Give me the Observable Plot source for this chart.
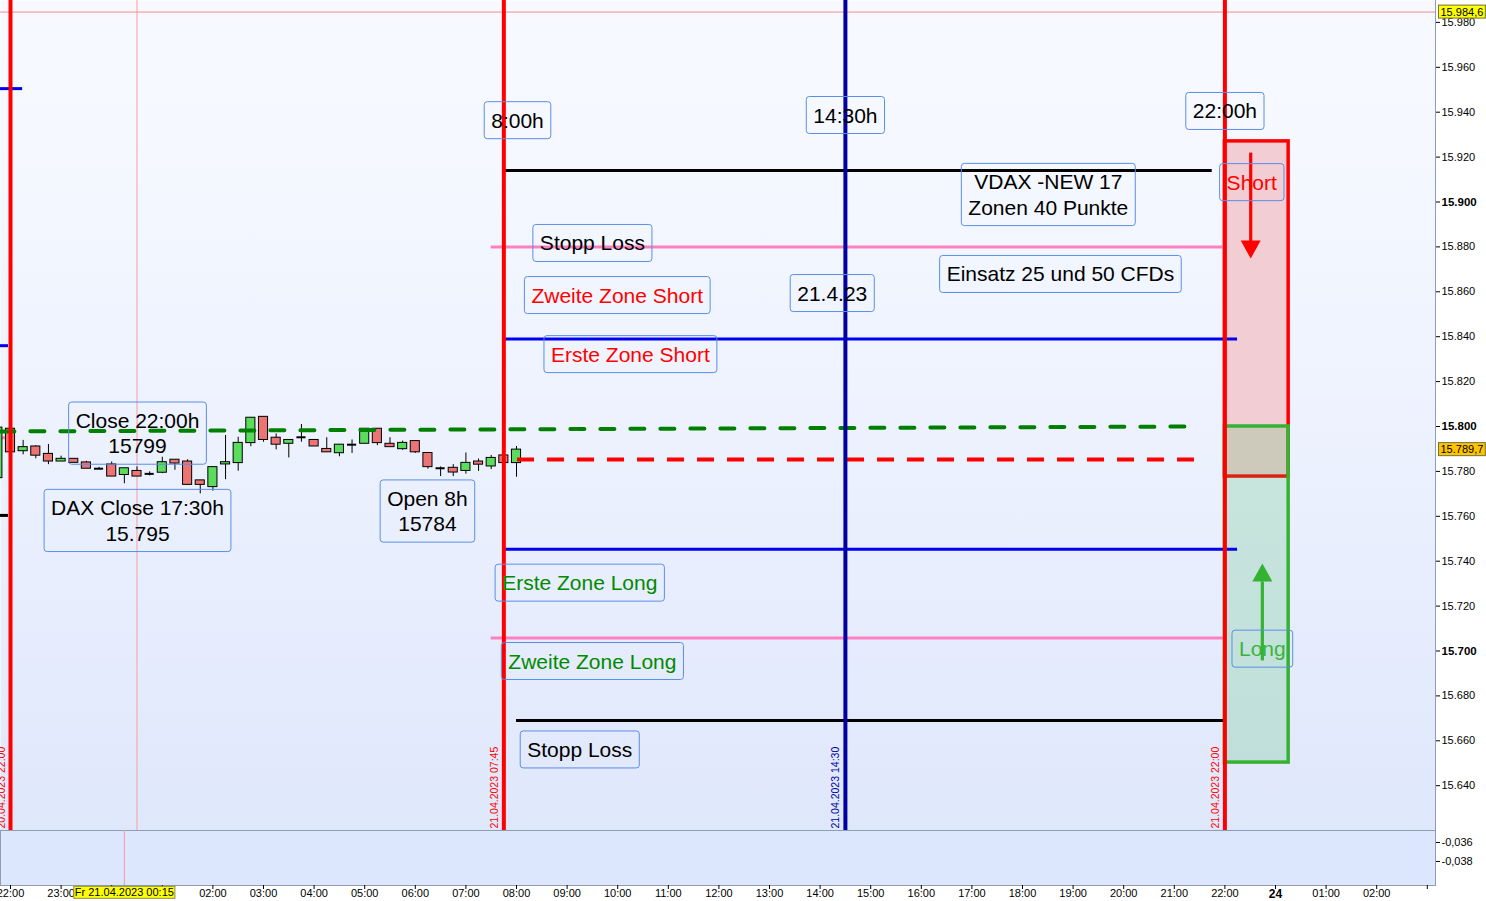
<!DOCTYPE html>
<html><head><meta charset="utf-8">
<script src="https://cdn.jsdelivr.net/npm/d3@7"></script>
<script src="https://cdn.jsdelivr.net/npm/@observablehq/plot@0.6"></script>
<style>
body{margin:0;background:#fff;font-family:"Liberation Sans",Arial,sans-serif;}
#chart{width:1486px;height:901px;overflow:hidden;background:#fff;}
#chart svg{display:block}
</style></head><body><div id="chart"></div>
<script>
// ===== DATA =====
// time axis: hours after Thu 20.04.2023 22:00 (weekend gap removed after Fri 22:00)
const hourLabels = ["22:00","23:00","00:00","01:00","02:00","03:00","04:00","05:00","06:00","07:00","08:00","09:00","10:00","11:00","12:00","13:00","14:00","15:00","16:00","17:00","18:00","19:00","20:00","21:00","22:00","24","01:00","02:00"];
const priceTicks = [15640,15660,15680,15700,15720,15740,15760,15780,15800,15820,15840,15860,15880,15900,15920,15940,15960,15980];
const boldPriceTicks = [15700,15800,15900];
const lowerTicks = [-0.036,-0.038];

// 15-minute DAX candles 21:45 .. 08:00
const candleHours = [-0.25,0,0.25,0.5,0.75,1,1.25,1.5,1.75,2,2.25,2.5,2.75,3,3.25,3.5,3.75,4,4.25,4.5,4.75,5,5.25,5.5,5.75,6,6.25,6.5,6.75,7,7.25,7.5,7.75,8,8.25,8.5,8.75,9,9.25,9.5,9.75,10];
const opens  = [15777,15799,15789,15791.1,15787.8,15784.4,15785.6,15784,15781.2,15783.1,15778.4,15780.2,15778.9,15779.4,15785.2,15784.4,15776,15773,15783.1,15783.7,15792.6,15804.3,15795,15792.3,15795.2,15794,15790,15788.1,15791.9,15792.3,15799,15792.3,15789.9,15793.5,15788.2,15781.4,15781.6,15780.2,15784.4,15782.2,15787.1,15783.7];
const highs  = [15801,15800,15793.8,15791.5,15792,15786.8,15785.6,15784.5,15781.8,15784.2,15781.4,15782,15779.8,15786.3,15785.2,15785.2,15776,15781.9,15796,15795.2,15803.9,15804.3,15796.7,15794,15800.9,15794,15795,15791.9,15794,15799,15799,15795,15793.5,15793.5,15788.2,15782,15783,15788.2,15785.5,15787.1,15788,15791.1];
const lows   = [15775,15787.5,15787.4,15785.6,15783,15784.4,15783.8,15781.2,15780.8,15777.7,15774.5,15777.7,15778,15779,15780.5,15774,15770,15771.2,15776.3,15780.1,15791,15793,15789.6,15786,15793,15791.1,15788.5,15786.5,15788,15792.3,15791.5,15790.8,15789.4,15788,15781,15777.7,15777.7,15778.8,15780,15780.8,15783.7,15777.4];
const closes = [15799.5,15788.5,15790.8,15787,15784.4,15785.6,15783.8,15781.2,15781.2,15777.7,15781.4,15777.7,15778.9,15784.1,15783.5,15774,15774,15781.9,15784.1,15792.7,15803.9,15794,15791.9,15794,15795.2,15791.1,15788.5,15791.9,15791.9,15799,15792.6,15790.8,15792.7,15788.5,15781.9,15781.4,15779.5,15783.8,15783,15786,15783.7,15789.7];

// trading zones (price levels)
const levelKinds  = ["stop","zone2","zone1","zone1","zone2","stop"];
const levelPrices = [15914,15880,15839,15745.3,15705.8,15669];
const levelFrom   = [9.75,9.5,9.75,9.75,9.5,10];
const levelTo     = [23.75,24,24.25,24.25,24,24];
// previous-day level stubs at left edge
const stubKinds  = ["zone1","zone1","stop","zone2"];
const stubPrices = [15950.5,15836,15760.4,15795];
const stubTo     = [0.24,-0.04,-0.04,-0.1];

// session markers
const sessionHours  = [0,9.75,16.5,24];
const sessionLabels = ["20.04.2023 22:00","21.04.2023 07:45","21.04.2023 14:30","21.04.2023 22:00"];
const sessionKinds  = ["red","red","blue","red"];

// close 22:00 (green dashed) and open 8h (red dashed)
const closeLineHours  = [-0.2,23.42];
const closeLinePrices = [15797.8,15800];
const openLevel = 15785.3, openFrom = 10.02, openTo = 23.62;

// Short / Long target boxes
const boxNames  = ["Short","Long"];
const boxFrom   = [24,24];
const boxTo     = [25.26,25.26];
const boxTop    = [15927,15800];
const boxBottom = [15777.7,15650.3];

// arrows
const arrowKinds = ["short","long"];
const arrowHours = [24.51,24.74];
const arrowStart = [15922,15695.8];
const arrowEnd   = [15880,15731];
const arrowTip   = [15874.8,15739];

// annotations
const noteTexts  = ["8:00h","14:30h","22:00h","VDAX -NEW 17\nZonen 40 Punkte","Short","Stopp Loss","Zweite Zone Short","21.4.23","Einsatz 25 und 50 CFDs","Erste Zone Short","Close 22:00h\n15799","DAX Close 17:30h\n15.795","Open 8h\n15784","Erste Zone Long","Zweite Zone Long","Long","Stopp Loss"];
const noteHours  = [10.02,16.5,24,20.51,24.53,11.5,11.99,16.24,20.75,12.25,2.51,2.51,8.24,11.25,11.5,24.74,11.25];
const notePrices = [15936.7,15939,15940.8,15903.6,15909.1,15882,15858.8,15859.7,15868.2,15832.5,15797.3,15758.4,15762.6,15730.7,15695.8,15701.3,15656.4];
const noteKinds  = ["info","info","info","info","short","info","short","info","info","short","info","info","info","long","long","longTag","info"];

// price tags on the right axis
const tagPrices = [15984.6,15789.7];
const cursorMainHour = 2.5, cursorLowHour = 2.25;
const cursorLabel = "Fr 21.04.2023 00:15";

// ===== STYLE MAPS =====
const levelColor = {stop:"#000000", zone2:"#ff80c0", zone1:"#0000f0"};
const sessionColor = {red:"#ff0000", blue:"#0000a0"};
const noteColor = {info:"#000000", short:"#ff0000", long:"#008a00", longTag:"#3cb43c"};
const arrowColor = {short:"#ff0000", long:"#33b233"};
const tagFill = ["#ffff00","#ffc400"];
const FONT = '"Liberation Sans", Arial, sans-serif';

// ===== BUILD =====
const xDomain = [-10/50.6, 1425/50.6];
const yDomain = [15800 - 404/2.245, 15800 + 426/2.245];
const half = 0.09;

const candles = candleHours.map((h,i)=>({h,o:opens[i],hi:highs[i],lo:lows[i],c:closes[i]}));
const bodies = candles.filter(d=>d.c!==d.o);
const dojis = candles.filter(d=>d.c===d.o);
const levels = levelPrices.map((p,i)=>({p,kind:levelKinds[i],from:levelFrom[i],to:levelTo[i]}));
const stubs = stubPrices.map((p,i)=>({p,kind:stubKinds[i],to:stubTo[i]}));
const sessions = sessionHours.map((h,i)=>({h,label:sessionLabels[i],kind:sessionKinds[i]}));
const closeLine = closeLineHours.map((h,i)=>({h,p:closeLinePrices[i]}));
const boxes = boxNames.map((n,i)=>({n,x1:boxFrom[i],x2:boxTo[i],y1:boxTop[i],y2:boxBottom[i]}));
const arrows = arrowKinds.map((k,i)=>({k,h:arrowHours[i],s:arrowStart[i],e:arrowEnd[i],t:arrowTip[i]}));
const notes = noteTexts.map((t,i)=>({t,h:noteHours[i],p:notePrices[i],kind:noteKinds[i]}));
const tags = tagPrices.map((p,i)=>({p,i}));

const fmtTag = v => { const [a,b] = v.toFixed(1).split("."); return a.slice(0,-3)+"."+a.slice(-3)+","+b; };
// hour ticks hidden under the yellow cursor tag
const hiddenTick = i => Math.abs(i - cursorLowHour) < 1;

const triDown = {draw(ctx,size){const w=Math.sqrt(size/Math.PI); ctx.moveTo(-w,-1.8*w); ctx.lineTo(w,-1.8*w); ctx.lineTo(0,0); ctx.closePath();}};
const triUp = {draw(ctx,size){const w=Math.sqrt(size/Math.PI); ctx.moveTo(-w,1.8*w); ctx.lineTo(w,1.8*w); ctx.lineTo(0,0); ctx.closePath();}};

const main = Plot.plot({
  width:1486, height:830, marginTop:0, marginBottom:0, marginLeft:0, marginRight:51,
  x:{domain:xDomain, axis:null},
  y:{domain:yDomain, axis:null},
  style:{fontFamily:FONT, fontSize:"11px", background:"transparent", color:"#000"},
  marks:[
    Plot.frame({fill:"#eef2fd", stroke:null}),
    Plot.ruleX([cursorMainHour], {stroke:"#f2a0a0", strokeWidth:1}),
    Plot.ruleY([tagPrices[0]], {stroke:"#f08c8c", strokeWidth:1}),
    // zone boxes
    Plot.rect(boxes.filter(d=>d.n==="Short"), {x1:"x1",x2:"x2",y1:"y1",y2:"y2",fill:"#f2cdd4",stroke:"#ff0000",strokeWidth:3.5}),
    Plot.rect(boxes.filter(d=>d.n==="Long"), {x1:"x1",x2:"x2",y1:"y1",y2:"y2",fill:"#3cb85a",fillOpacity:0.2,stroke:"#33b233",strokeWidth:3.5}),
    // level lines
    Plot.ruleY(levels, {y:"p", x1:"from", x2:"to", stroke:d=>levelColor[d.kind], strokeWidth:3}),
    Plot.ruleY(stubs, {y:"p", x1:()=>xDomain[0], x2:"to", stroke:d=>levelColor[d.kind], strokeWidth:3}),
    // candles
    Plot.ruleX(candles, {x:"h", y1:"lo", y2:"hi", stroke:"#000", strokeWidth:1, clip:true}),
    Plot.rect(bodies, {x1:d=>d.h-half, x2:d=>d.h+half, y1:"o", y2:"c", fill:d=>d.c>d.o?"#5cdc5c":"#ec7474", stroke:"#000", strokeWidth:1, clip:true}),
    Plot.ruleY(dojis, {y:"c", x1:d=>d.h-half, x2:d=>d.h+half, stroke:"#000", strokeWidth:2}),
    // dashed reference lines
    Plot.line(closeLine, {x:"h", y:"p", stroke:"#008000", strokeWidth:4, strokeDasharray:"14,16", clip:true}),
    Plot.ruleY([openLevel], {y:d=>d, x1:()=>openFrom, x2:()=>openTo, stroke:"#ff0000", strokeWidth:4, strokeDasharray:"17,13"}),
    // session lines
    Plot.ruleX(sessions, {x:"h", stroke:d=>sessionColor[d.kind], strokeWidth:4}),
    Plot.text(sessions, {x:"h", text:"label", frameAnchor:"bottom", rotate:-90, textAnchor:"start", dx:-6, dy:-2, fill:d=>sessionColor[d.kind], fontSize:10.5}),
    // arrows
    Plot.link(arrows, {x1:"h", x2:"h", y1:"s", y2:"e", stroke:d=>arrowColor[d.k], strokeWidth:3.2}),
    Plot.dot(arrows.filter(d=>d.k==="short"), {x:"h", y:"t", symbol:triDown, r:10, fill:d=>arrowColor[d.k], stroke:null}),
    Plot.dot(arrows.filter(d=>d.k==="long"), {x:"h", y:"t", symbol:triUp, r:10, fill:d=>arrowColor[d.k], stroke:null}),
    // annotations
    Plot.text(notes, {x:"h", y:"p", text:"t", fill:d=>noteColor[d.kind], fontSize:21, lineHeight:1.2, ariaDescription:"notes"}),
    // right axis
    Plot.ruleX([xDomain[1]], {stroke:"#8d9db5", strokeWidth:1}),
    Plot.axisY(priceTicks.filter(v=>!boldPriceTicks.includes(v)), {anchor:"right", tickSize:4, tickPadding:2, tickFormat:v=>(v/1000).toFixed(3), fontSize:11}),
    Plot.axisY(boldPriceTicks, {anchor:"right", tickSize:4, tickPadding:2, tickFormat:v=>(v/1000).toFixed(3), fontSize:11.5, fontWeight:"bold"}),
    Plot.text(tags, {y:"p", text:d=>fmtTag(d.p), frameAnchor:"right", dx:5, textAnchor:"start", fontSize:11, ariaDescription:"tags"})
  ]
});

const lower = Plot.plot({
  width:1486, height:71, marginTop:0, marginBottom:16, marginLeft:0, marginRight:51,
  x:{domain:xDomain, axis:null},
  y:{domain:[-0.04053,-0.03474], axis:null},
  style:{fontFamily:FONT, fontSize:"11px", background:"transparent", color:"#000"},
  marks:[
    Plot.frame({fill:"#dce6fc", stroke:"#8d9db5"}),
    Plot.ruleX([cursorLowHour], {stroke:"#f09a9a", strokeWidth:1}),
    Plot.axisX(d3.range(hourLabels.length+1), {anchor:"bottom", tickSize:4, tickPadding:0, tickFormat:i=>(hourLabels[i]===undefined||hourLabels[i]==="24"||hiddenTick(i))?"":hourLabels[i], fontSize:11}),
    Plot.axisX(d3.range(hourLabels.length).filter(i=>hourLabels[i]==="24"), {anchor:"bottom", tickSize:4, tickPadding:0, tickFormat:i=>hourLabels[i], fontSize:12, fontWeight:"bold"}),
    Plot.axisY(lowerTicks, {anchor:"right", tickSize:4, tickPadding:2, tickFormat:d=>d.toFixed(3).replace(".",","), fontSize:11}),
    Plot.text([cursorLabel], {x:()=>cursorLowHour, text:d=>d, frameAnchor:"bottom", lineAnchor:"top", dy:3, fontSize:11, ariaDescription:"cursortag"})
  ]
});

const chart = document.getElementById("chart");
chart.appendChild(main);
chart.appendChild(lower);

// background gradient
const defs = d3.select(main).insert("defs", ":first-child");
const grad = defs.append("linearGradient").attr("id","bgGrad").attr("x1",0).attr("y1",0).attr("x2",0).attr("y2",1);
[[0,"#f7f9ff"],[0.18,"#f5f8ff"],[0.5,"#edf2fe"],[1,"#dfe7fb"]].forEach(([o,c])=>grad.append("stop").attr("offset",o).attr("stop-color",c));
let fr = main.querySelector('[aria-label="frame"]');
if (fr && fr.tagName.toLowerCase()!=="rect") fr = fr.querySelector("rect");
if (fr) fr.setAttribute("fill","url(#bgGrad)");

// boxes around texts
function boxify(svg, desc, o){
  svg.querySelectorAll(`g[aria-description="${desc}"] text`).forEach((t,i)=>{
    const b = t.getBBox();
    const r = document.createElementNS("http://www.w3.org/2000/svg","rect");
    r.setAttribute("x", b.x - o.px); r.setAttribute("y", b.y - o.py);
    r.setAttribute("width", b.width + 2*o.px); r.setAttribute("height", b.height + 2*o.py);
    r.setAttribute("rx", o.rx); r.setAttribute("fill", Array.isArray(o.fill)?o.fill[i]:o.fill);
    r.setAttribute("stroke", o.stroke); r.setAttribute("stroke-width", 1);
    if (t.getAttribute("transform")) r.setAttribute("transform", t.getAttribute("transform"));
    t.parentNode.insertBefore(r, t);
  });
}
boxify(main, "notes", {px:7, py:7, rx:3, fill:"none", stroke:"#5b8ee6"});
boxify(main, "tags", {px:2, py:0.5, rx:0, fill:tagFill, stroke:"#707040"});
boxify(lower, "cursortag", {px:1, py:0, rx:0, fill:"#ffff00", stroke:"#8a8a50"});
</script></body></html>
